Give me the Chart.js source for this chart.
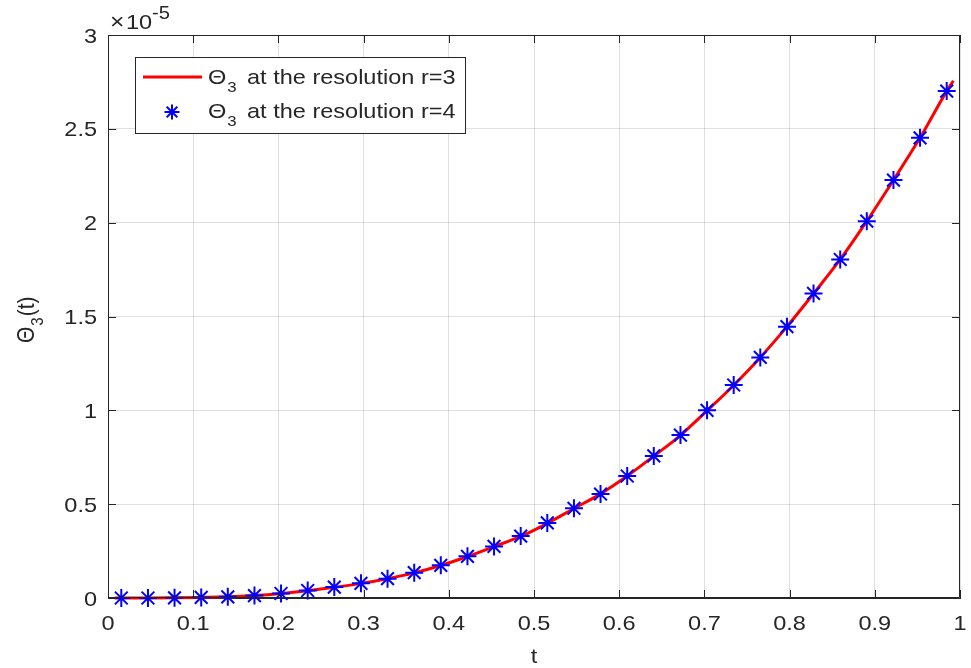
<!DOCTYPE html>
<html>
<head>
<meta charset="utf-8">
<title>Theta_3(t)</title>
<script src="https://cdn.jsdelivr.net/npm/chart.js@4.4.1/dist/chart.umd.min.js"></script>
<style>
  body { margin: 0; background: #fff; }
  canvas { display: block; }
</style>
</head>
<body>
<canvas id="theta-chart" width="971" height="668"></canvas>
<script>
  // values are in units of 1e-5 (axis shows "x10^-5")
  const tLine = [0.0078, 0.0156, 0.0469, 0.0781, 0.1094, 0.1406, 0.1719, 0.2031, 0.2344, 0.2656, 0.2969,
    0.3281, 0.3594, 0.3906, 0.4219, 0.4531, 0.4844, 0.5156, 0.5469, 0.5781, 0.6094, 0.6406,
    0.6719, 0.7031, 0.7344, 0.7656, 0.7969, 0.8281, 0.8594, 0.8906, 0.9219, 0.9531, 0.9844, 0.9922];
  const thetaR3 = [0.000, 0.000, 0.000, 0.001, 0.003, 0.006, 0.013, 0.024, 0.039, 0.057, 0.078,
    0.103, 0.134, 0.173, 0.221, 0.274, 0.328, 0.398, 0.477, 0.555, 0.650, 0.756,
    0.867, 0.998, 1.134, 1.282, 1.446, 1.622, 1.804, 2.008, 2.227, 2.452, 2.701, 2.756];

  const tStar = [0.0156, 0.0469, 0.0781, 0.1094, 0.1406, 0.1719, 0.2031, 0.2344, 0.2656, 0.2969,
    0.3281, 0.3594, 0.3906, 0.4219, 0.4531, 0.4844, 0.5156, 0.5469, 0.5781, 0.6094, 0.6406,
    0.6719, 0.7031, 0.7344, 0.7656, 0.7969, 0.8281, 0.8594, 0.8906, 0.9219, 0.9531, 0.9844];
  const thetaR4 = [0.000, 0.000, 0.001, 0.003, 0.006, 0.013, 0.024, 0.040, 0.058, 0.078,
    0.103, 0.135, 0.174, 0.222, 0.275, 0.330, 0.400, 0.478, 0.554, 0.650, 0.757,
    0.868, 1.000, 1.135, 1.282, 1.446, 1.623, 1.804, 2.008, 2.227, 2.452, 2.701];

  const xTicks = [0, 0.1, 0.2, 0.3, 0.4, 0.5, 0.6, 0.7, 0.8, 0.9, 1];
  const yTicks = [0, 0.5, 1, 1.5, 2, 2.5, 3];

  const FONT = "'Liberation Sans', Arial, Helvetica, sans-serif";
  const SX = 1.12; // text in the reference is a bit wider than Arial
  const INK = "#262626";

  function txt(ctx, s, x, y, size, align) {
    ctx.save();
    ctx.translate(x, y);
    ctx.scale(SX, 1);
    ctx.font = size + "px " + FONT;
    ctx.textAlign = align || "left";
    ctx.textBaseline = "alphabetic";
    ctx.fillStyle = INK;
    ctx.fillText(s, 0, 0);
    ctx.restore();
  }
  function txtW(ctx, s, size) {
    ctx.save();
    ctx.font = size + "px " + FONT;
    const w = ctx.measureText(s).width * SX;
    ctx.restore();
    return w;
  }

  function drawStar(ctx, x, y, r) {
    ctx.save();
    ctx.strokeStyle = "#0000ff";
    ctx.lineWidth = 2;
    ctx.beginPath();
    ctx.moveTo(x - r, y); ctx.lineTo(x + r, y);
    ctx.moveTo(x, y - r); ctx.lineTo(x, y + r);
    const d = r * 0.7071;
    ctx.moveTo(x - d, y - d); ctx.lineTo(x + d, y + d);
    ctx.moveTo(x - d, y + d); ctx.lineTo(x + d, y - d);
    ctx.stroke();
    ctx.restore();
  }

  // axes box, inward ticks, labels and legend
  const decor = {
    id: "decor",
    afterDraw(chart) {
      const ctx = chart.ctx;
      const a = chart.chartArea;
      const xs = chart.scales.x, ys = chart.scales.y;

      ctx.save();
      ctx.strokeStyle = INK;
      ctx.lineWidth = 1;
      ctx.beginPath();
      ctx.rect(a.left + 0.5, a.top + 0.5, a.right - a.left - 1, a.bottom - a.top - 1);
      xTicks.forEach(v => {
        const px = Math.round(xs.getPixelForValue(v)) + 0.5;
        ctx.moveTo(px, a.bottom); ctx.lineTo(px, a.bottom - 8);
        ctx.moveTo(px, a.top); ctx.lineTo(px, a.top + 8);
      });
      yTicks.forEach(v => {
        const py = Math.round(ys.getPixelForValue(v)) + 0.5;
        ctx.moveTo(a.left, py); ctx.lineTo(a.left + 8, py);
        ctx.moveTo(a.right, py); ctx.lineTo(a.right - 8, py);
      });
      ctx.stroke();
      ctx.restore();

      // tick labels
      xTicks.forEach(v => {
        txt(ctx, String(v), xs.getPixelForValue(v), a.bottom + 32, 21, "center");
      });
      yTicks.forEach(v => {
        txt(ctx, String(v), a.left - 11, ys.getPixelForValue(v) + 7.5, 21, "right");
      });

      // exponent
      txt(ctx, "\u00d7", 110, 29, 22, "left");
      txt(ctx, "10", 126, 29, 21, "left");
      txt(ctx, "-5", 152, 19, 18, "left");

      // x title
      txt(ctx, "t", (a.left + a.right) / 2, 663, 21, "center");

      // y title, rotated
      ctx.save();
      ctx.translate(34, 343);
      ctx.scale(SX, 1);
      ctx.rotate(-Math.PI / 2);
      ctx.fillStyle = INK;
      ctx.textBaseline = "alphabetic";
      ctx.font = "21px " + FONT;
      ctx.fillText("\u0398", 0, 0);
      let w = ctx.measureText("\u0398").width;
      ctx.font = "15px " + FONT;
      ctx.fillText("3", w + 1, 8);
      w += ctx.measureText("3").width + 2;
      ctx.font = "21px " + FONT;
      ctx.fillText("(t)", w, 0);
      ctx.restore();

      // legend
      ctx.save();
      ctx.fillStyle = "#fff";
      ctx.strokeStyle = INK;
      ctx.lineWidth = 1;
      ctx.fillRect(135, 57, 330, 76);
      ctx.strokeRect(135.5, 57.5, 330, 76);
      ctx.strokeStyle = "#ff0000";
      ctx.lineWidth = 3;
      ctx.beginPath();
      ctx.moveTo(143, 77); ctx.lineTo(202, 77);
      ctx.stroke();
      ctx.restore();
      drawStar(ctx, 172, 112, 7.5);

      [["r=3", 84], ["r=4", 118]].forEach(([r, base]) => {
        txt(ctx, "\u0398", 208, base, 21, "left");
        const tw = txtW(ctx, "\u0398", 21);
        txt(ctx, "3", 208 + tw + 1, base + 8, 15, "left");
        txt(ctx, "at the resolution " + r, 247, base, 21, "left");
      });
    }
  };

  const ctx = document.getElementById("theta-chart").getContext("2d");
  const chart = new Chart(ctx, {
    type: "scatter",
    data: {
      datasets: [{
        label: "\u0398_3 at the resolution r=4",
        data: tStar.map((t, i) => ({ x: t, y: thetaR4[i] })),
        showLine: false,
        pointStyle: "star",
        pointRadius: 9,
        pointBorderWidth: 2,
        borderColor: "#0000ff",
        backgroundColor: "#0000ff",
        clip: false,
        order: 0
      }, {
        label: "\u0398_3 at the resolution r=3",
        data: tLine.map((t, i) => ({ x: t, y: thetaR3[i] })),
        showLine: true,
        borderColor: "#ff0000",
        borderWidth: 3,
        pointRadius: 0,
        cubicInterpolationMode: "monotone",
        clip: false,
        order: 1
      }]
    },
    options: {
      responsive: false,
      animation: false,
      layout: { padding: { top: 35, right: 5, left: 0, bottom: 0 } },
      plugins: {
        legend: { display: false },
        tooltip: { enabled: false }
      },
      scales: {
        x: {
          type: "linear",
          min: 0,
          max: 1,
          ticks: { stepSize: 0.1, display: false },
          grid: { color: "rgba(38,38,38,0.15)", drawTicks: false },
          border: { color: INK },
          afterFit: function (s) { s.height = 70; }
        },
        y: {
          type: "linear",
          min: 0,
          max: 3,
          ticks: { stepSize: 0.5, display: false },
          grid: { color: "rgba(38,38,38,0.15)", drawTicks: false },
          border: { color: INK },
          afterFit: function (s) { s.width = 108; }
        }
      }
    },
    plugins: [decor]
  });
</script>
</body>
</html>
